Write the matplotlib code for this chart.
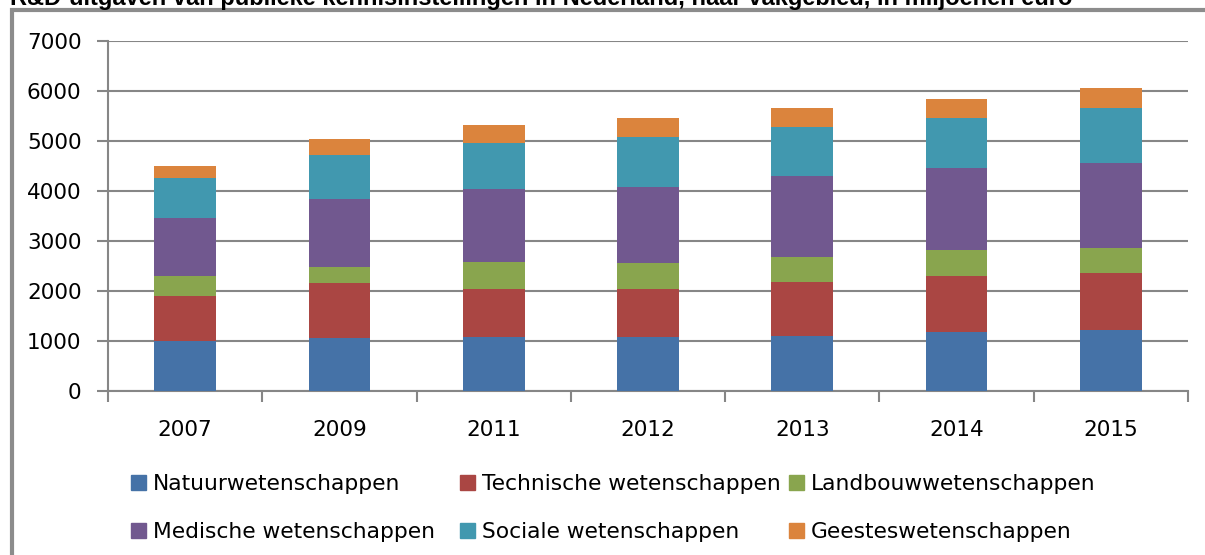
import numpy as np
import matplotlib.pyplot as plt
from matplotlib.patches import Rectangle

# data (miljoenen euro)
jaren = ['2007', '2009', '2011', '2012', '2013', '2014', '2015']
natuur = [1000, 1067, 1080, 1080, 1107, 1187, 1227]
techniek = [900, 1093, 960, 960, 1073, 1113, 1133]
landbouw = [400, 320, 540, 520, 500, 520, 500]
medisch = [1160, 1360, 1460, 1520, 1620, 1640, 1700]
sociaal = [800, 880, 920, 1000, 980, 1000, 1100]
geestes = [240, 320, 360, 380, 380, 380, 400]

series = [
    ('Natuurwetenschappen', natuur, '#4572A7'),
    ('Technische wetenschappen', techniek, '#AA4643'),
    ('Landbouwwetenschappen', landbouw, '#89A54E'),
    ('Medische wetenschappen', medisch, '#71588F'),
    ('Sociale wetenschappen', sociaal, '#4198AF'),
    ('Geesteswetenschappen', geestes, '#DB843D'),
]

W, H = 1205, 555
plt.rcParams['font.family'] = ['DejaVu Sans']
fig = plt.figure(figsize=(W / 100, H / 100), dpi=100)
ax = fig.add_axes([108 / W, 1 - 391 / H, 1080 / W, 350 / H])

x = np.arange(len(jaren))
bottom = np.zeros(len(jaren))
for naam, vals, kleur in series:
    ax.bar(x, vals, width=0.4, bottom=bottom, color=kleur, label=naam, zorder=3)
    bottom += np.array(vals)

grid_c = '#868686'
ax.set_xlim(-0.5, len(jaren) - 0.5)
ax.set_ylim(0, 7000)
ax.set_yticks(np.arange(0, 7001, 1000))
ax.yaxis.grid(True, color=grid_c, linewidth=1.5, zorder=0)
ax.set_xticks(x)
ax.set_xticklabels(jaren)
ax.set_xticks(np.arange(-0.5, len(jaren), 1), minor=True)
ax.tick_params(axis='x', which='major', length=0, pad=21, labelsize=15.5)
ax.tick_params(axis='x', which='minor', length=8, width=1.5, color=grid_c)
ax.tick_params(axis='y', length=8, width=1.5, color=grid_c, pad=11, labelsize=15.5)
for s in ['top', 'right']:
    ax.spines[s].set_visible(False)
for s in ['left', 'bottom']:
    ax.spines[s].set_color(grid_c)
    ax.spines[s].set_linewidth(1.5)

# legend, two rows of three, laid out like the Excel original
col_x = [131, 460, 789]
row_y = [490, 538]  # text baselines in pixels from the top
for i, (naam, vals, kleur) in enumerate(series):
    r, c = divmod(i, 3)
    mx, by = col_x[c], row_y[r]
    fig.patches.append(Rectangle((mx / W, 1 - by / H), 15 / W, 15 / H,
                                 transform=fig.transFigure, color=kleur))
    fig.text((mx + 22) / W, 1 - by / H, naam, fontsize=15.7,
             va='baseline', ha='left')

# chart frame (partially cut off like the reference)
fig.patches.append(Rectangle((12 / W, -0.1), 1.2, 1 - 10 / H + 0.1,
                             transform=fig.transFigure, fill=False,
                             edgecolor='#8c8c8c', linewidth=3))

fig.text(10 / W, 1 - 5 / H,
         'R&D-uitgaven van publieke kennisinstellingen in Nederland, naar vakgebied, in miljoenen euro',
         fontsize=17, fontweight='bold', family='Liberation Sans', va='baseline', ha='left')

fig.savefig('out.png', dpi=100)
